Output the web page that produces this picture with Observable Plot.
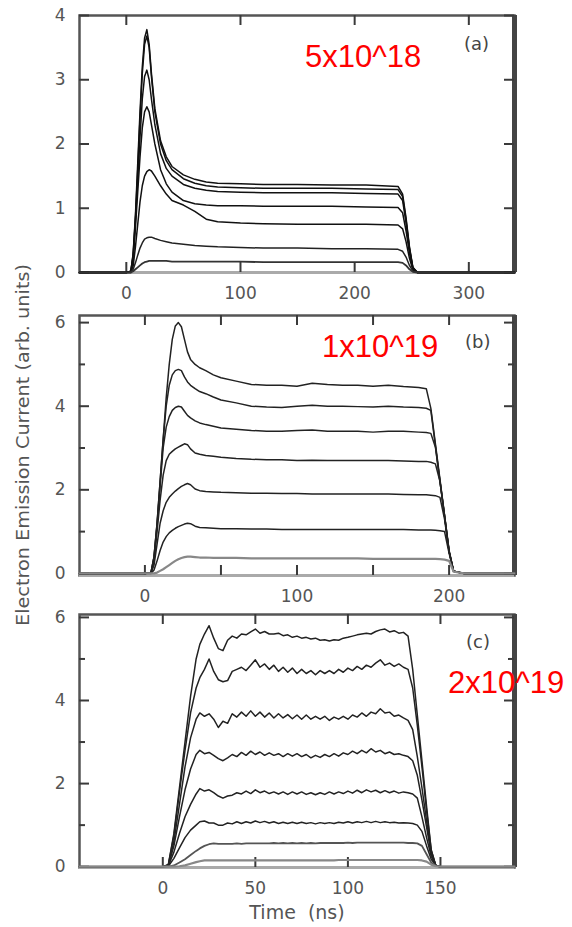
<!DOCTYPE html>
<html>
<head>
<meta charset="utf-8">
<script src="https://cdn.jsdelivr.net/npm/d3@7"></script>
<script src="https://cdn.jsdelivr.net/npm/@observablehq/plot@0.6"></script>
<style>
html,body{margin:0;padding:0;background:#fff;}
#fig{position:relative;width:572px;height:927px;overflow:hidden;background:#fff;}
.panel{position:absolute;left:0;}
.panel svg{background:transparent !important;}
.red{position:absolute;font-family:"Liberation Sans",Arial,sans-serif;font-size:31px;color:#ff0000;line-height:1;white-space:nowrap;}
.tag{position:absolute;font-family:"DejaVu Sans",sans-serif;font-size:18px;color:#444;line-height:1;white-space:nowrap;}
.xtitle{position:absolute;font-family:"DejaVu Sans",sans-serif;font-size:19px;color:#555;line-height:1;white-space:pre;text-align:center;}
</style>
</head>
<body>
<div id="fig"></div>
<script>
// ---------- Panel (a): 5x10^18 ----------
const tA = [-41, 0, 4, 6, 8, 10, 12, 14, 16, 18,
            20, 22, 25, 30, 35, 40, 50, 60, 70, 80,
            100, 120, 150, 180, 210, 238, 242, 245, 248, 251,
            255, 300, 340];
const a1 = [0, 0, 0.02, 0.3, 0.9, 1.7, 2.5, 3.2, 3.65, 3.78,
            3.55, 3.1, 2.55, 2.05, 1.8, 1.65, 1.52, 1.45, 1.41, 1.39,
            1.38, 1.37, 1.37, 1.36, 1.36, 1.34, 1.22, 0.85, 0.4, 0.08,
            0, 0, 0];
const a2 = [0, 0, 0.02, 0.28, 0.85, 1.6, 2.4, 3.1, 3.55, 3.68,
            3.5, 3.05, 2.5, 2.0, 1.74, 1.6, 1.46, 1.39, 1.35, 1.33,
            1.32, 1.31, 1.31, 1.31, 1.3, 1.29, 1.18, 0.82, 0.38, 0.07,
            0, 0, 0];
const a3 = [0, 0, 0.02, 0.25, 0.8, 1.45, 2.1, 2.7, 3.05, 3.15,
            3.0, 2.7, 2.3, 1.85, 1.62, 1.5, 1.37, 1.31, 1.28, 1.26,
            1.25, 1.24, 1.24, 1.24, 1.23, 1.22, 1.12, 0.78, 0.36, 0.07,
            0, 0, 0];
const a4 = [0, 0, 0.01, 0.2, 0.7, 1.25, 1.8, 2.25, 2.5, 2.58,
            2.5, 2.3, 2.0, 1.6, 1.38, 1.25, 1.12, 1.07, 1.05, 1.04,
            1.04, 1.03, 1.03, 1.03, 1.02, 1.01, 0.93, 0.65, 0.3, 0.06,
            0, 0, 0];
const a5 = [0, 0, 0.01, 0.1, 0.4, 0.75, 1.1, 1.35, 1.5, 1.57,
            1.6, 1.58, 1.5, 1.35, 1.22, 1.12, 1.05, 0.95, 0.83, 0.79,
            0.77, 0.76, 0.75, 0.75, 0.75, 0.74, 0.68, 0.48, 0.22, 0.04,
            0, 0, 0];
const a6 = [0, 0, 0, 0.05, 0.15, 0.27, 0.38, 0.46, 0.52, 0.54,
            0.55, 0.55, 0.53, 0.5, 0.48, 0.46, 0.44, 0.42, 0.41, 0.4,
            0.39, 0.38, 0.38, 0.37, 0.37, 0.36, 0.33, 0.24, 0.11, 0.02,
            0, 0, 0];
const a7 = [0, 0, 0, 0.02, 0.05, 0.08, 0.11, 0.14, 0.16, 0.17,
            0.18, 0.18, 0.18, 0.18, 0.18, 0.17, 0.17, 0.17, 0.17, 0.17,
            0.17, 0.16, 0.16, 0.16, 0.16, 0.16, 0.15, 0.11, 0.05, 0.01,
            0, 0, 0];
const aCurves = [a1, a2, a3, a4, a5, a6, a7];
const aXTicks = [0, 100, 200, 300];
const aYTicks = [0, 1, 2, 3, 4];

// ---------- Panel (b): 1x10^19 ----------
const tB = [-43, 0, 4, 6, 8, 10, 12, 14, 16, 18,
            20, 22, 24, 26, 28, 30, 33, 36, 40, 45,
            50, 60, 70, 80, 90, 100, 110, 120, 130, 140,
            150, 160, 170, 180, 185, 188, 191, 194, 197, 200,
            203, 210, 243];
const b1 = [0, 0, 0.02, 0.4, 1.2, 2.2, 3.2, 4.2, 5.0, 5.6,
            5.92, 6.0, 5.9, 5.6, 5.3, 5.12, 5.0, 4.92, 4.85, 4.75,
            4.68, 4.6, 4.52, 4.5, 4.5, 4.48, 4.55, 4.52, 4.5, 4.5,
            4.48, 4.5, 4.47, 4.45, 4.42, 3.95, 3.1, 2.25, 1.4, 0.55,
            0.05, 0, 0];
const b2 = [0, 0, 0.02, 0.4, 1.2, 2.2, 3.2, 4.0, 4.5, 4.75,
            4.85, 4.88, 4.85, 4.7, 4.58, 4.5, 4.42, 4.35, 4.3, 4.22,
            4.15, 4.08, 4.0, 3.98, 3.97, 4.0, 4.02, 4.0, 4.0, 3.99,
            3.98, 4.0, 3.98, 3.97, 3.95, 3.9, 3.05, 2.2, 1.38, 0.52,
            0.05, 0, 0];
const b3 = [0, 0, 0.02, 0.38, 1.15, 2.1, 3.0, 3.5, 3.75, 3.9,
            3.97, 4.0, 3.98, 3.88, 3.78, 3.72, 3.65, 3.6, 3.56, 3.52,
            3.48, 3.45, 3.42, 3.4, 3.4, 3.42, 3.43, 3.4, 3.4, 3.4,
            3.38, 3.4, 3.4, 3.38, 3.37, 3.35, 3.02, 2.2, 1.38, 0.52,
            0.05, 0, 0];
const b4 = [0, 0, 0.01, 0.3, 1.0, 1.75, 2.35, 2.7, 2.85, 2.92,
            2.98, 3.02, 3.06, 3.1, 3.08, 2.98, 2.88, 2.85, 2.82, 2.8,
            2.78, 2.75, 2.73, 2.72, 2.72, 2.7, 2.71, 2.7, 2.7, 2.7,
            2.7, 2.7, 2.69, 2.68, 2.68, 2.66, 2.62, 2.2, 1.38, 0.52,
            0.05, 0, 0];
const b5 = [0, 0, 0.01, 0.2, 0.7, 1.2, 1.5, 1.7, 1.82, 1.9,
            1.97, 2.03, 2.08, 2.12, 2.15, 2.12, 2.02, 1.98, 1.96, 1.95,
            1.94, 1.93, 1.92, 1.92, 1.91, 1.91, 1.9, 1.9, 1.9, 1.9,
            1.9, 1.9, 1.89, 1.88, 1.88, 1.87, 1.86, 1.82, 1.3, 0.52,
            0.05, 0, 0];
const b6 = [0, 0, 0, 0.08, 0.3, 0.55, 0.75, 0.88, 0.97, 1.03,
            1.08, 1.12, 1.15, 1.18, 1.2, 1.19, 1.13, 1.1, 1.09, 1.08,
            1.07, 1.07, 1.06, 1.06, 1.05, 1.05, 1.05, 1.05, 1.05, 1.05,
            1.05, 1.05, 1.05, 1.04, 1.04, 1.04, 1.03, 1.02, 1.0, 0.48,
            0.05, 0, 0];
const b7 = [0, 0, 0, 0, 0.02, 0.06, 0.1, 0.15, 0.2, 0.25,
            0.3, 0.34, 0.37, 0.39, 0.4, 0.4, 0.39, 0.38, 0.38, 0.37,
            0.37, 0.37, 0.36, 0.36, 0.36, 0.36, 0.36, 0.36, 0.36, 0.36,
            0.35, 0.35, 0.35, 0.35, 0.35, 0.35, 0.35, 0.34, 0.33, 0.3,
            0.04, 0, 0];
const bCurves = [b1, b2, b3, b4, b5, b6, b7];
const bXTicks = [0, 50, 100, 150, 200];
const bYTicks = [0, 2, 4, 6];
const bYMinor = [1, 3, 5];

// ---------- Panel (c): 2x10^19 ----------
const tC = [-45, 0, 3, 6, 9, 12, 15, 18,
            20, 22.5, 25, 27.5, 30, 32.5, 35, 37.5, 40, 42.5,
            45, 47.5, 50, 52.5, 55, 57.5, 60, 62.5, 65, 67.5,
            70, 72.5, 75, 77.5, 80, 82.5, 85, 87.5, 90, 92.5,
            95, 97.5, 100, 102.5, 105, 107.5, 110, 112.5, 115, 117.5,
            120, 122.5, 125, 127.5, 130, 132.5, 135, 137.5, 140, 142.5,
            145, 147.5, 150, 190];
const c1 = [0, 0, 0.05, 0.8, 1.9, 3.0, 4.1, 5.0,
            5.35, 5.6, 5.8, 5.5, 5.25, 5.2, 5.45, 5.55, 5.5, 5.6,
            5.58, 5.65, 5.72, 5.62, 5.66, 5.6, 5.6, 5.62, 5.56, 5.58,
            5.52, 5.55, 5.5, 5.52, 5.48, 5.5, 5.45, 5.46, 5.43, 5.46,
            5.45, 5.5, 5.52, 5.55, 5.58, 5.6, 5.62, 5.6, 5.66, 5.7,
            5.72, 5.65, 5.68, 5.62, 5.64, 5.55, 4.75, 3.65, 2.55, 1.45,
            0.4, 0.02, 0, 0];
const c2 = [0, 0, 0.05, 0.75, 1.8, 2.8, 3.7, 4.3,
            4.55, 4.75, 5.0, 4.7, 4.5, 4.45, 4.48, 4.7, 4.75, 4.8,
            4.72, 4.85, 4.98, 4.8, 4.88, 4.75, 4.85, 4.7, 4.8, 4.68,
            4.78, 4.65, 4.75, 4.65, 4.72, 4.62, 4.72, 4.65, 4.72, 4.65,
            4.75, 4.68, 4.78, 4.72, 4.82, 4.75, 4.85, 4.8, 4.9, 4.98,
            4.85, 4.9, 4.82, 4.88, 4.8, 4.75, 4.3, 3.4, 2.4, 1.35,
            0.4, 0.03, 0, 0];
const c3 = [0, 0, 0.04, 0.6, 1.5, 2.4, 3.1, 3.55,
            3.7, 3.62, 3.68, 3.55, 3.35, 3.5, 3.45, 3.68, 3.6, 3.72,
            3.62, 3.75, 3.62, 3.72, 3.6, 3.7, 3.58, 3.68, 3.58, 3.66,
            3.56, 3.65, 3.55, 3.65, 3.55, 3.62, 3.55, 3.62, 3.52, 3.6,
            3.55, 3.62, 3.55, 3.65, 3.6, 3.7, 3.62, 3.72, 3.68, 3.8,
            3.7, 3.72, 3.62, 3.65, 3.58, 3.52, 3.3, 2.65, 1.9, 1.1,
            0.35, 0.03, 0, 0];
const c4 = [0, 0, 0.03, 0.5, 1.2, 1.85, 2.35, 2.7,
            2.8, 2.72, 2.75, 2.68, 2.6, 2.55, 2.62, 2.7, 2.65, 2.75,
            2.68, 2.78, 2.7, 2.76, 2.68, 2.74, 2.68, 2.72, 2.65, 2.72,
            2.66, 2.72, 2.65, 2.7, 2.62, 2.68, 2.63, 2.7, 2.65, 2.72,
            2.66, 2.74, 2.7, 2.78, 2.72, 2.8, 2.74, 2.84, 2.76, 2.8,
            2.72, 2.76, 2.7, 2.72, 2.68, 2.65, 2.55, 2.2, 1.6, 0.95,
            0.3, 0.03, 0, 0];
const c5 = [0, 0, 0.02, 0.35, 0.8, 1.2, 1.5, 1.75,
            1.88, 1.82, 1.85, 1.78, 1.7, 1.65, 1.7, 1.72, 1.78, 1.75,
            1.82, 1.76, 1.85, 1.78, 1.82, 1.76, 1.8, 1.75, 1.8, 1.74,
            1.8, 1.75, 1.8, 1.74, 1.78, 1.73, 1.78, 1.74, 1.8, 1.75,
            1.8, 1.76, 1.82, 1.77, 1.84, 1.78, 1.85, 1.8, 1.84, 1.78,
            1.83, 1.78, 1.82, 1.77, 1.8, 1.78, 1.75, 1.65, 1.2, 0.7,
            0.25, 0.03, 0, 0];
const c6 = [0, 0, 0.01, 0.2, 0.45, 0.7, 0.88, 1.0,
            1.08, 1.1, 1.05, 1.05, 1.0, 1.0, 1.05, 1.03, 1.08, 1.04,
            1.08, 1.05, 1.1, 1.06, 1.09, 1.05, 1.08, 1.04, 1.07, 1.04,
            1.07, 1.04, 1.07, 1.04, 1.06, 1.03, 1.06, 1.04, 1.06, 1.04,
            1.07, 1.05, 1.08, 1.05, 1.08, 1.06, 1.09, 1.06, 1.09, 1.06,
            1.08, 1.06, 1.07, 1.05, 1.06, 1.05, 1.04, 1.0, 0.85, 0.5,
            0.18, 0.03, 0, 0];
const c7 = [0, 0, 0, 0.03, 0.1, 0.18, 0.28, 0.38,
            0.44, 0.5, 0.54, 0.56, 0.55, 0.55, 0.55, 0.55, 0.56, 0.55,
            0.56, 0.56, 0.56, 0.56, 0.56, 0.56, 0.57, 0.56, 0.57, 0.56,
            0.57, 0.56, 0.57, 0.56, 0.57, 0.56, 0.57, 0.57, 0.57, 0.57,
            0.57, 0.57, 0.58, 0.57, 0.58, 0.58, 0.58, 0.58, 0.58, 0.58,
            0.58, 0.58, 0.58, 0.58, 0.58, 0.57, 0.57, 0.56, 0.5, 0.3,
            0.1, 0.02, 0, 0];
const c8 = [0, 0, 0, 0, 0.01, 0.03, 0.07, 0.11,
            0.13, 0.15, 0.15, 0.15, 0.15, 0.15, 0.15, 0.15, 0.15, 0.15,
            0.15, 0.15, 0.15, 0.15, 0.15, 0.15, 0.15, 0.15, 0.15, 0.15,
            0.15, 0.15, 0.15, 0.15, 0.15, 0.15, 0.15, 0.15, 0.15, 0.15,
            0.16, 0.16, 0.16, 0.16, 0.16, 0.16, 0.16, 0.16, 0.16, 0.16,
            0.16, 0.16, 0.16, 0.16, 0.16, 0.16, 0.16, 0.16, 0.15, 0.12,
            0.05, 0.01, 0, 0];
const cCurves = [c1, c2, c3, c4, c5, c6, c7, c8];
const cXTicks = [0, 50, 100, 150];
const cYTicks = [0, 2, 4, 6];
const cYMinor = [1, 3, 5];

// ---------- Text ----------
const densityLabels = ["5x10^18", "1x10^19", "2x10^19"];
const panelTags = ["(a)", "(b)", "(c)"];
const yTitle = "Electron Emission Current (arb. units)";
const xTitle = "Time  (ns)";

// ---------- Build ----------
function makePanel(cfg) {
  const {t, curves, colors, widths, xDomain, yDomain, xTicks, xFormat, yTicks, yMinor, height, marginTop, marginBottom} = cfg;
  const W = 572, mL = 79, mR = 58;
  const innerH = height - marginTop - marginBottom;
  const innerW = W - mL - mR;
  // tick lengths in pixels, converted to data units through the domain span
  const major = 10, minor = 6;
  const dy = (px) => px * (yDomain[1] - yDomain[0]) / innerH;
  const dx = (px) => px * (xDomain[1] - xDomain[0]) / innerW;
  const tick = {stroke: "#3a3a3a", strokeWidth: 2};
  const marks = [
    Plot.frame({stroke: "#555", strokeWidth: 2.5}),
    Plot.ruleY([yDomain[0]], {stroke: "#aaa", strokeWidth: 3}),
    Plot.ruleX([xDomain[1]], {stroke: "#444", strokeWidth: 5}),
    // inward ticks: bottom, top
    Plot.ruleX(xTicks, {x: d => d, y1: yDomain[0], y2: yDomain[0] + dy(major), ...tick}),
    Plot.ruleX(xTicks, {x: d => d, y1: yDomain[1] - dy(major), y2: yDomain[1], ...tick}),
    // left, right
    Plot.ruleY(yTicks, {y: d => d, x1: xDomain[0], x2: xDomain[0] + dx(major), ...tick}),
    Plot.ruleY(yTicks, {y: d => d, x1: xDomain[1] - dx(major), x2: xDomain[1], ...tick}),
    // labels
    Plot.axisX(xTicks, {anchor: "bottom", tickSize: 0, tickPadding: 14, tickFormat: xFormat, label: null}),
    Plot.axisY(yTicks, {anchor: "left", tickSize: 0, tickPadding: 14, tickFormat: d => String(d), label: null})
  ];
  if (yMinor) {
    marks.push(Plot.ruleY(yMinor, {y: d => d, x1: xDomain[0], x2: xDomain[0] + dx(minor), ...tick}));
    marks.push(Plot.ruleY(yMinor, {y: d => d, x1: xDomain[1] - dx(minor), x2: xDomain[1], ...tick}));
  }
  curves.forEach((c, k) => {
    marks.push(Plot.line(t, {x: t, y: c, stroke: colors[k], strokeWidth: widths[k], strokeLinejoin: "round"}));
  });
  return Plot.plot({
    width: W,
    height,
    marginLeft: mL,
    marginRight: mR,
    marginTop,
    marginBottom,
    x: {domain: xDomain},
    y: {domain: yDomain},
    style: {fontFamily: "'DejaVu Sans', sans-serif", fontSize: "17px", color: "#555", background: "transparent"},
    marks
  });
}

const fig = document.getElementById("fig");
function place(el, top) {
  const d = document.createElement("div");
  d.className = "panel";
  d.style.top = top + "px";
  d.appendChild(el);
  fig.appendChild(d);
}

place(makePanel({
  t: tA, curves: aCurves,
  colors: ["#111", "#111", "#111", "#111", "#111", "#222", "#333"],
  widths: [1.5, 1.5, 1.5, 1.5, 1.5, 1.5, 1.8],
  xDomain: [-41, 340], yDomain: [0, 4],
  xTicks: aXTicks, xFormat: d => String(d),
  yTicks: aYTicks, yMinor: null,
  height: 305, marginTop: 15, marginBottom: 33
}), 0);

place(makePanel({
  t: tB, curves: bCurves,
  colors: ["#222", "#222", "#222", "#222", "#222", "#222", "#888"],
  widths: [1.5, 1.5, 1.5, 1.5, 1.5, 1.5, 2.2],
  xDomain: [-43, 243], yDomain: [-0.05, 6.17],
  xTicks: bXTicks, xFormat: d => (d % 100 === 0 ? String(d) : ""),
  yTicks: bYTicks, yMinor: bYMinor,
  height: 305, marginTop: 15, marginBottom: 30
}), 300);

place(makePanel({
  t: tC, curves: cCurves,
  colors: ["#222", "#222", "#222", "#222", "#222", "#222", "#555", "#888"],
  widths: [1.5, 1.5, 1.5, 1.5, 1.5, 1.5, 1.8, 2.2],
  xDomain: [-45, 190], yDomain: [-0.02, 6.07],
  xTicks: cXTicks, xFormat: d => String(d),
  yTicks: cYTicks, yMinor: cYMinor,
  height: 300, marginTop: 14, marginBottom: 33
}), 600);

// Red density annotations
const redPos = [[305, 41], [322, 331], [448, 667]];
densityLabels.forEach((s, i) => {
  const d = document.createElement("div");
  d.className = "red";
  d.style.left = redPos[i][0] + "px";
  d.style.top = redPos[i][1] + "px";
  d.textContent = s;
  fig.appendChild(d);
});

// Panel tags
const tagPos = [[464, 35], [465, 333], [466, 633]];
panelTags.forEach((s, i) => {
  const d = document.createElement("div");
  d.className = "tag";
  d.style.left = tagPos[i][0] + "px";
  d.style.top = tagPos[i][1] + "px";
  d.textContent = s;
  fig.appendChild(d);
});

// X title
const xt = document.createElement("div");
xt.className = "xtitle";
xt.style.left = "197px";
xt.style.width = "200px";
xt.style.top = "903px";
xt.textContent = xTitle;
fig.appendChild(xt);

// Y title (rotated)
const NS = "http://www.w3.org/2000/svg";
const ys = document.createElementNS(NS, "svg");
ys.setAttribute("width", "50");
ys.setAttribute("height", "927");
ys.style.position = "absolute";
ys.style.left = "0px";
ys.style.top = "0px";
const yt = document.createElementNS(NS, "text");
yt.setAttribute("x", "22");
yt.setAttribute("y", "445");
yt.setAttribute("transform", "rotate(-90 22 445)");
yt.setAttribute("text-anchor", "middle");
yt.setAttribute("dominant-baseline", "central");
yt.setAttribute("font-family", "DejaVu Sans, sans-serif");
yt.setAttribute("font-size", "18");
yt.setAttribute("fill", "#555");
yt.setAttribute("textLength", "362");
yt.setAttribute("lengthAdjust", "spacingAndGlyphs");
yt.textContent = yTitle;
ys.appendChild(yt);
fig.appendChild(ys);
</script>
</body>
</html>
